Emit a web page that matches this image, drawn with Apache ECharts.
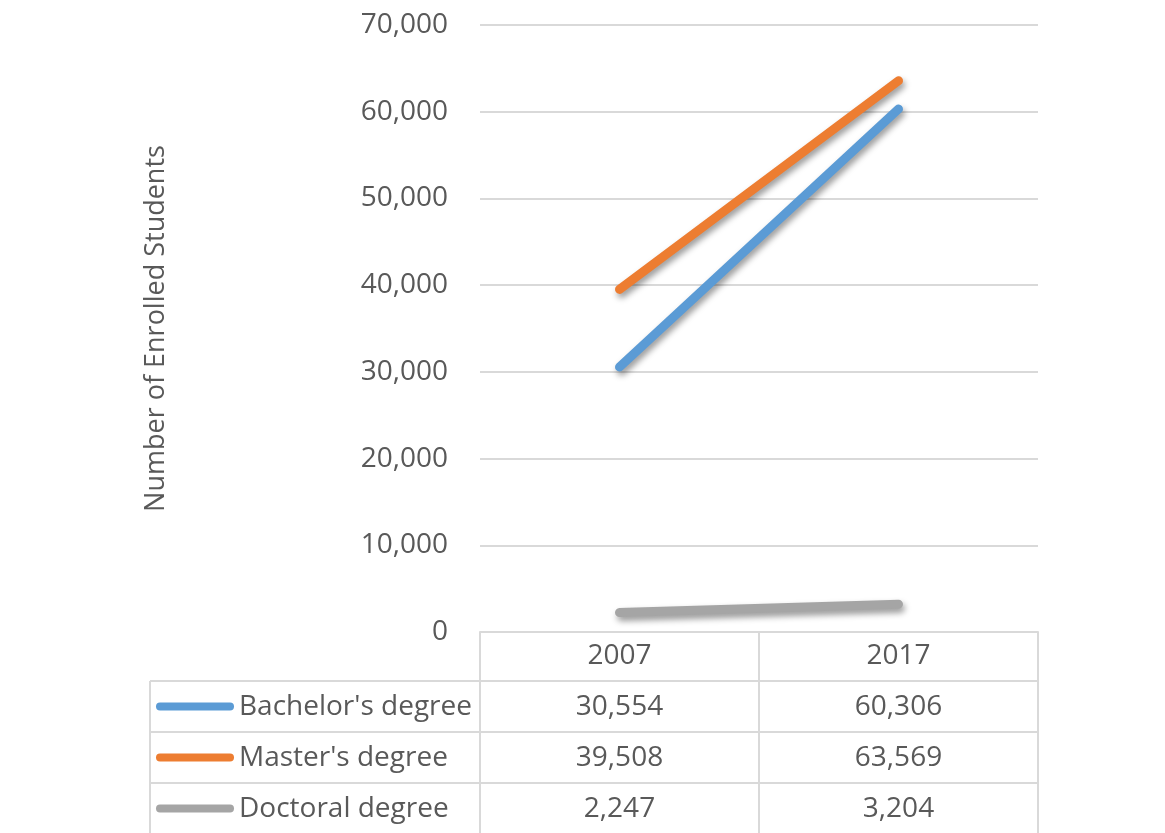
<!DOCTYPE html>
<html>
<head>
<meta charset="utf-8">
<script src="https://cdn.jsdelivr.net/npm/echarts@6/dist/echarts.min.js"></script>
<style>
html,body{margin:0;padding:0;background:#fff;}
#main{width:1165px;height:833px;}
</style>
</head>
<body>
<div id="main"></div>
<script>
const categories = ['2007', '2017'];
const seriesNames = ["Bachelor's degree", "Master's degree", 'Doctoral degree'];
const bachelor = [30554, 60306];
const master = [39508, 63569];
const doctoral = [2247, 3204];
const yTicks = [0, 10000, 20000, 30000, 40000, 50000, 60000, 70000];

const colors = ['#5B9BD5', '#ED7D31', '#A5A5A5'];
const seriesValues = [bachelor, master, doctoral];
const FONT = '"Open Sans", "Liberation Sans", sans-serif';
const TXT = '#595959';
const GRIDC = '#D9D9D9';
const FS = 28;
const fmt = v => v.toLocaleString('en-US');

const chart = echarts.init(document.getElementById('main'), null, {renderer: 'canvas'});

const option = {
  backgroundColor: '#ffffff',
  animation: false,
  grid: {left: 480, right: 127, top: 25, bottom: 201, containLabel: false},
  xAxis: {
    type: 'category',
    data: categories,
    boundaryGap: true,
    axisLine: {show: true, lineStyle: {color: GRIDC, width: 2}},
    axisTick: {show: false},
    axisLabel: {fontFamily: FONT, fontSize: FS, color: TXT, margin: 10}
  },
  yAxis: {
    type: 'value',
    min: yTicks[0],
    max: yTicks[yTicks.length - 1],
    interval: 10000,
    name: 'Number of Enrolled Students',
    nameLocation: 'middle',
    nameRotate: 90,
    nameGap: 310,
    nameTextStyle: {fontFamily: FONT, fontSize: 27, color: TXT},
    axisLine: {show: false},
    axisTick: {show: false},
    splitLine: {lineStyle: {color: GRIDC, width: 2}},
    axisLabel: {fontFamily: FONT, fontSize: FS, color: TXT, margin: 32, formatter: v => fmt(v)}
  },
  series: seriesNames.map((n, i) => ({
    name: n,
    type: 'line',
    data: seriesValues[i],
    symbol: 'none',
    lineStyle: {
      color: colors[i], width: 9, cap: 'round',
      shadowColor: 'rgba(0,0,0,0.4)', shadowBlur: 6, shadowOffsetX: 2, shadowOffsetY: 4
    },
    itemStyle: {color: colors[i]},
    z: 3 + i
  }))
};
chart.setOption(option);

// Data table under the axis, built from the same arrays
const c0 = chart.convertToPixel({xAxisIndex: 0}, categories[0]);
const c1 = chart.convertToPixel({xAxisIndex: 0}, categories[1]);
const bw = c1 - c0;
const colEdges = [c0 - bw / 2, c0 + bw / 2, c1 + bw / 2];
const yAxisPix = chart.convertToPixel({yAxisIndex: 0}, 0);
const headerH = 49, rowH = 51;
const tableLeft = 150;
const g = [];
const lineStyle = {stroke: GRIDC, lineWidth: 2};
colEdges.forEach(x => g.push({type: 'line', shape: {x1: x, y1: yAxisPix, x2: x, y2: 833}, style: lineStyle, z: 1}));
g.push({type: 'line', shape: {x1: tableLeft, y1: yAxisPix + headerH, x2: tableLeft, y2: 833}, style: lineStyle, z: 1});
seriesNames.forEach((n, i) => {
  const top = yAxisPix + headerH + i * rowH;
  const mid = top + rowH / 2;
  g.push({type: 'line', shape: {x1: tableLeft, y1: top, x2: colEdges[2], y2: top}, style: lineStyle, z: 1});
  g.push({type: 'line', shape: {x1: 160, y1: mid, x2: 230, y2: mid}, style: {stroke: colors[i], lineWidth: 8, lineCap: 'round'}, z: 2});
  g.push({type: 'text', x: 239, y: mid + 1, style: {text: n, font: FS + 'px ' + FONT, fill: TXT, verticalAlign: 'middle'}, z: 2});
  seriesValues[i].forEach((v, j) => {
    const cx = j === 0 ? c0 : c1;
    g.push({type: 'text', x: cx, y: mid + 1, style: {text: fmt(v), font: FS + 'px ' + FONT, fill: TXT, align: 'center', verticalAlign: 'middle'}, z: 2});
  });
});
chart.setOption({graphic: g});
</script>
</body>
</html>
